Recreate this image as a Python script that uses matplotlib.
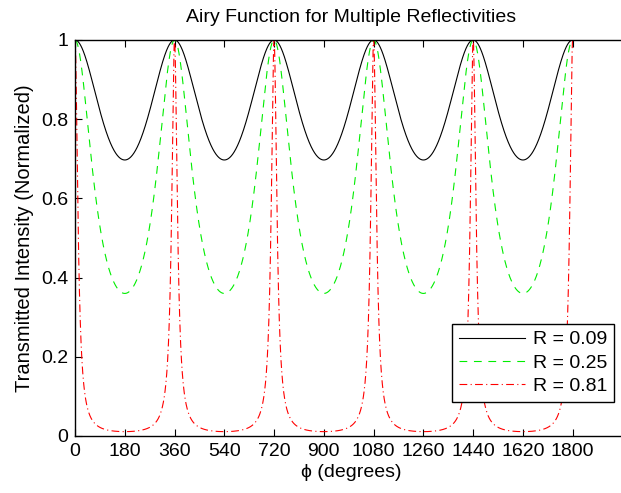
import matplotlib.pyplot as plt
import numpy as np

plt.rcParams['font.family'] = ['Liberation Sans', 'DejaVu Sans']

# Datos: reflectividades y fase
reflectividades = [0.09, 0.25, 0.81]
etiquetas = ["R = 0.09", "R = 0.25", "R = 0.81"]
colores = ["black", "#00ee00", "red"]
estilos = ["-", (0, (7, 6)), (0, (7, 3, 1, 3))]
fase = np.linspace(0, 1800, 3601)
marcas_x = [0, 180, 360, 540, 720, 900, 1080, 1260, 1440, 1620, 1800]
marcas_y = [0, 0.2, 0.4, 0.6, 0.8, 1]

fig = plt.figure(figsize=(6.21, 4.93), dpi=100)
ax = fig.add_axes([75 / 621, 57 / 493, 553 / 621, 396 / 493])

# funcion de Airy
for R, lab, c, ls in zip(reflectividades, etiquetas, colores, estilos):
    F = 4 * R / (1 - R) ** 2
    T = 1 / (1 + F * np.sin(np.radians(fase) / 2) ** 2)
    ax.plot(fase, T, color=c, linestyle=ls, linewidth=0.8, label=lab)

ax.set_xlim(0, 2000)
ax.set_ylim(0, 1)
ax.set_xticks(marcas_x)
ax.set_yticks(marcas_y)
ax.set_yticklabels(["0", "0.2", "0.4", "0.6", "0.8", "1"])
ax.tick_params(direction="in", top=True, right=True, labelsize=14, length=5, pad=5)
ax.set_xlabel("\u03d5 (degrees)", fontsize=14, labelpad=3)
ax.set_ylabel("Transmitted Intensity (Normalized)", fontsize=14.5, labelpad=5)
ax.set_title("Airy Function for Multiple Reflectivities", fontsize=14, pad=13)
for s in ax.spines.values():
    s.set_linewidth(1.0)

leg = ax.legend(loc="lower right", bbox_to_anchor=(614 / 621, 91 / 493),
                bbox_transform=fig.transFigure, fontsize=14, fancybox=False,
                framealpha=1, edgecolor="black", handlelength=3.4,
                borderpad=0.35, labelspacing=0.3, handletextpad=0.4,
                borderaxespad=0)
leg.get_frame().set_linewidth(1.0)

fig.savefig("out.png", dpi=100)
